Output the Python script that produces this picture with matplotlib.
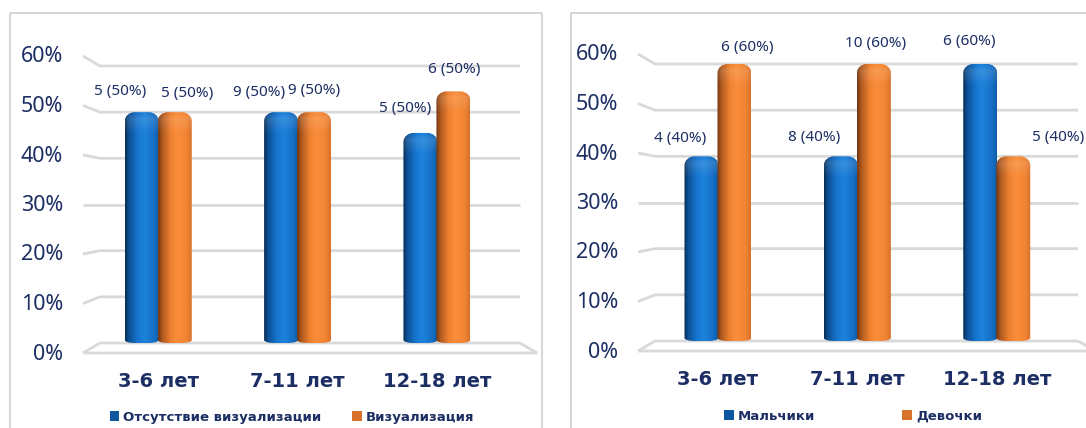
import numpy as np
import matplotlib
matplotlib.use("Agg")
import matplotlib.pyplot as plt
from matplotlib.path import Path
from matplotlib.patches import PathPatch, Patch
from matplotlib.lines import Line2D
from matplotlib.colors import LinearSegmentedColormap
from matplotlib.transforms import offset_copy

# age groups and y axis
categories = ["3-6 лет", "7-11 лет", "12-18 лет"]
y_ticks = [0, 10, 20, 30, 40, 50, 60]

# left chart: visualisation
no_vis_pct = [50, 50, 45.5]
vis_pct = [50, 50, 54.5]
no_vis_labels = ["5 (50%)", "9 (50%)", "5 (50%)"]
vis_labels = ["5 (50%)", "9 (50%)", "6 (50%)"]
left_series = ["Отсутствие визуализации", "Визуализация"]

# right chart: sex
boys_pct = [40, 40, 60]
girls_pct = [60, 60, 40]
boys_labels = ["4 (40%)", "8 (40%)", "6 (60%)"]
girls_labels = ["6 (60%)", "10 (60%)", "5 (40%)"]
right_series = ["Мальчики", "Девочки"]

FIG_W, FIG_H, DPI = 1086, 428, 100
TEXT = "#1c2e63"
GRID = "#d9d9d9"
BLUE = "#1a78d2"
ORANGE = "#f5862f"
BOLD_FONT = ["DejaVu Sans"]

plt.rcParams["font.family"] = ["Noto Sans", "DejaVu Sans"]

blue_cmap = LinearSegmentedColormap.from_list("cyl_blue", [
    (0.0, "#082c50"), (0.12, "#0d5096"), (0.38, "#1676cf"),
    (0.58, "#1d82dc"), (0.85, "#1670c6"), (1.0, "#0f5ca6")])
orange_cmap = LinearSegmentedColormap.from_list("cyl_orange", [
    (0.0, "#70330f"), (0.12, "#ad581e"), (0.38, "#ef8231"),
    (0.58, "#fa8e3b"), (0.85, "#f08432"), (1.0, "#d8702a")])

fig = plt.figure(figsize=(FIG_W / DPI, FIG_H / DPI), dpi=DPI)
fig.patch.set_facecolor("white")


def px_axes(left, right, top, bottom):
    return fig.add_axes([left / FIG_W, 1 - bottom / FIG_H,
                         (right - left) / FIG_W, (bottom - top) / FIG_H])


def cylinder_path(x0, x1, h, rx, ry, ryb):
    k = 0.5523
    verts = [
        (x0, ryb), (x0, h - ry),
        (x0, h - ry + k * ry), (x0 + rx - k * rx, h), (x0 + rx, h),
        (x1 - rx, h),
        (x1 - rx + k * rx, h), (x1, h - ry + k * ry), (x1, h - ry),
        (x1, ryb),
        (x1, ryb - k * ryb), (x1 - rx + k * rx, 0), (x1 - rx, 0),
        (x0 + rx, 0),
        (x0 + rx - k * rx, 0), (x0, ryb - k * ryb), (x0, ryb),
        (x0, ryb),
    ]
    codes = ([Path.MOVETO, Path.LINETO] + [Path.CURVE4] * 3 + [Path.LINETO]
             + [Path.CURVE4] * 3 + [Path.LINETO] + [Path.CURVE4] * 3
             + [Path.LINETO] + [Path.CURVE4] * 3 + [Path.CLOSEPOLY])
    return Path(verts, codes)


def draw_cylinders(ax, bars, cmap, px_x, px_y):
    grad = cmap(np.linspace(0, 1, 128))[None, :, :]
    for rect in bars:
        x0, w, h = rect.get_x(), rect.get_width(), rect.get_height()
        rect.set_visible(False)
        path = cylinder_path(x0, x0 + w, h, 10 / px_x, 9 / px_y, 3 / px_y)
        clip = PathPatch(path, transform=ax.transData, fc="none", ec="none")
        im = ax.imshow(grad, extent=(x0, x0 + w, 0, h), aspect="auto",
                       interpolation="bilinear", zorder=3)
        im.set_clip_path(clip)
        # soft light on the rounded top
        hl = np.zeros((32, 1, 4))
        hl[..., :3] = 1.0
        hl[:, 0, 3] = np.concatenate([np.linspace(0.0, 0.12, 10),
                                      np.linspace(0.12, 0.0, 22)])
        im2 = ax.imshow(hl, extent=(x0, x0 + w, h - 22 / px_y, h), aspect="auto",
                        interpolation="bilinear", zorder=4)
        im2.set_clip_path(clip)


def draw_panel(ax, left, right, top, bottom, xlim, vals_a, vals_b,
               labs_a, labs_b, nudges, series, legend_xy, col_space):
    w_px, h_px = right - left, bottom - top
    x = np.arange(len(categories))
    ax.set_xlim(*xlim)
    ax.set_ylim(0, 60)
    px_x = w_px / (xlim[1] - xlim[0])
    px_y = h_px / 60
    bw = 34 / px_x
    off = 16.5 / px_x

    bars_a = ax.bar(x - off, vals_a, bw, color=BLUE)
    bars_b = ax.bar(x + off, vals_b, bw, color=ORANGE)
    draw_cylinders(ax, bars_a, blue_cmap, px_x, px_y)
    draw_cylinders(ax, bars_b, orange_cmap, px_x, px_y)

    # 3-D looking grid: a slanted stub on the left, the wall line, the floor
    sx = 17 / w_px
    for v in y_ticks:
        dy = (v - 30) / 30 * 10 / h_px
        yv = v / 60
        ax.plot([-sx, 0, 1], [yv + dy, yv, yv], transform=ax.transAxes,
                color=GRID, lw=2.0, clip_on=False, zorder=1,
                solid_capstyle="butt", solid_joinstyle="miter")
        ax.text(-sx - 20 / w_px, yv + dy - 1 / h_px, f"{v}%", transform=ax.transAxes,
                ha="right", va="center", fontsize=15.5, color=TEXT)
    fy = -10 / h_px
    ax.plot([-sx, 1 + sx, 1], [fy, fy, 0], transform=ax.transAxes,
            color=GRID, lw=2.0, clip_on=False, zorder=1,
            solid_capstyle="butt", solid_joinstyle="miter")

    # value labels above every cylinder
    k = 0
    for bars, labs in ((bars_a, labs_a), (bars_b, labs_b)):
        for rect, lab in zip(bars, labs):
            nx, ny = nudges[k]
            k += 1
            tr = offset_copy(ax.transData, fig=fig, x=nx, y=ny, units="dots")
            ax.text(rect.get_x() + rect.get_width() / 2, rect.get_height(), lab,
                    transform=tr, ha="center", va="center", fontsize=11,
                    color=TEXT, clip_on=False, zorder=5)

    ax.set_xticks(x, categories)
    for t in ax.get_xticklabels():
        t.set_fontfamily(BOLD_FONT)
        t.set_fontweight("bold")
        t.set_fontsize(14)
        t.set_color(TEXT)
    ax.tick_params(axis="x", length=0, pad=21)
    ax.set_yticks([])
    for s in ax.spines.values():
        s.set_visible(False)
    ax.patch.set_alpha(0)

    handles = [Patch(facecolor="#0d57a0"), Patch(facecolor="#d9722a")]
    ax.legend(handles, series, loc="center",
              bbox_to_anchor=(legend_xy[0] / FIG_W, 1 - legend_xy[1] / FIG_H),
              bbox_transform=fig.transFigure, ncol=2, frameon=False,
              prop={"family": BOLD_FONT, "weight": "bold", "size": 9.5},
              labelcolor=TEXT, handlelength=0.75, handleheight=0.75,
              handletextpad=0.3, columnspacing=col_space, borderaxespad=0)


# panel frames
for x0, x1 in ((10, 542), (571, 1090)):
    xs = [x0 / FIG_W, x0 / FIG_W, x1 / FIG_W, x1 / FIG_W]
    ys = [0, 1 - 13 / FIG_H, 1 - 13 / FIG_H, 0]
    fig.add_artist(Line2D(xs, ys, transform=fig.transFigure,
                          color="#d6d6d6", lw=1.4))

# (x, y) pixel nudges of value labels: series A then series B
left_nudges = [(-22, 21), (-22, 20), (-15, 24), (12, 19), (0, 22), (1, 22)]
right_nudges = [(-21, 18), (-27, 19), (-11, 22), (13, 17), (2, 21), (45, 19)]

ax_l = px_axes(100, 520, 66, 343)
draw_panel(ax_l, 100, 520, 66, 343, (-0.418, 2.596), no_vis_pct, vis_pct,
           no_vis_labels, vis_labels, left_nudges, left_series, (292, 417), 2.3)

ax_r = px_axes(655, 1078, 64, 341)
draw_panel(ax_r, 655, 1078, 64, 341, (-0.452, 2.583), boys_pct, girls_pct,
           boys_labels, girls_labels, right_nudges, right_series, (853, 416), 6.6)

fig.savefig("out.png", dpi=DPI)
